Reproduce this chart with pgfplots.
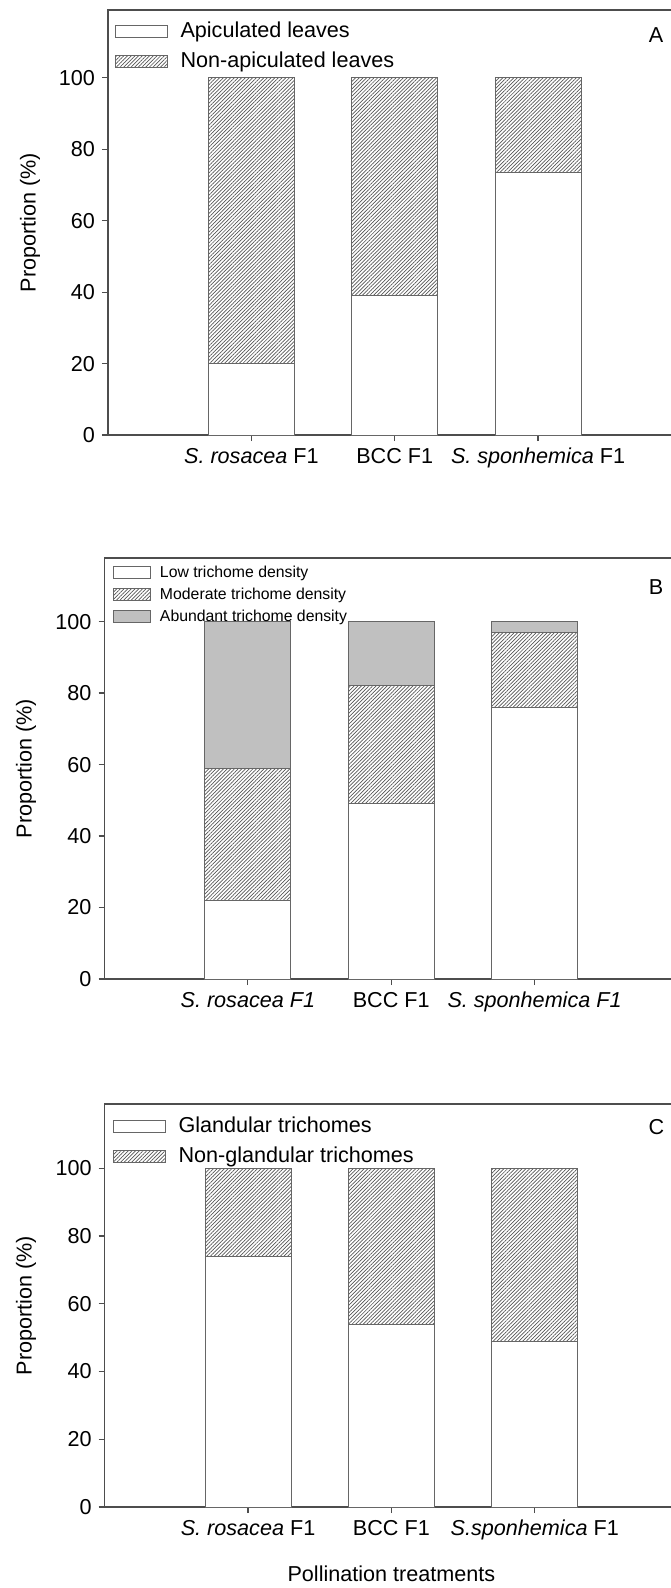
\documentclass[border=0pt]{standalone}
\usepackage{fontspec}
\setmainfont{Liberation Sans}
\usepackage{pgfplots}
\pgfplotsset{compat=1.18}
\usetikzlibrary{patterns.meta}
\definecolor{axgray}{HTML}{4D4D4D}
\definecolor{bargray}{HTML}{666666}
\definecolor{abund}{HTML}{C0C0C0}
\definecolor{hatchc}{HTML}{555555}
\newcommand{\mainfs}{\fontsize{10.8}{13}\selectfont}
\newcommand{\smallfs}{\fontsize{7.9}{9.5}\selectfont}
\pgfplotsset{
  panel/.style={
    scale only axis,
    width=286.7pt,
    xmin=0, xmax=4,
    ymin=0,
    ybar stacked, bar width=0.6,
    xtick={1,2,3},
    ytick={0,20,...,100},
    tick align=outside,
    tick pos=left,
    major tick length=3pt,
    axis line style={axgray, line width=0.75pt},
    major tick style={axgray, line width=0.6pt},
    /pgf/number format/assume math mode=true,
    tick label style={font=\mainfs, text=black},
    label style={font=\mainfs},
    ylabel={Proportion (\%)},
    legend cell align=left,
  },
  bigleg/.style={
    legend image code/.code={\draw[##1] (0pt,-3pt) rectangle (26pt,3pt);},
    legend style={draw=none, fill=none, inner sep=0pt, outer sep=0pt,
      anchor=north west, row sep=4.5pt,
      nodes={inner sep=0pt, text height=8pt, text depth=2.5pt, font=\mainfs},
      /tikz/every odd column/.append style={column sep=6.25pt}},
  },
  smallleg/.style={
    legend image code/.code={\draw[##1] (0pt,-3pt) rectangle (18.5pt,3pt);},
    legend style={draw=none, fill=none, inner sep=0pt, outer sep=0pt,
      anchor=north west, row sep=3.2pt,
      nodes={inner sep=0pt, text height=6pt, text depth=1.8pt, font=\smallfs},
      /tikz/every odd column/.append style={column sep=4.5pt}},
  },
  lowbar/.style={fill=white, draw=bargray, line width=0.5pt},
  hatchbar/.style={draw=bargray, line width=0.5pt,
    pattern={Lines[angle=45,distance=1.3pt,line width=0.35pt]}, pattern color=hatchc},
  greybar/.style={fill=abund, draw=bargray, line width=0.5pt},
}
\begin{document}
\begin{tikzpicture}
\useasboundingbox (0,0) rectangle (335pt,-794pt);
% Panel A
\begin{axis}[panel, bigleg,
  at={(54pt,-217.5pt)}, anchor=south west,
  height=212.5pt, ymax=119,
  xticklabels={\textit{S. rosacea} F1, BCC F1, \textit{S. sponhemica} F1},
  ylabel style={at={(axis description cs:-0.136,0.5)}, anchor=center, rotate=0},
  legend style={at={(axis description cs:0.0122,0.974)}},
]
\addplot[lowbar] coordinates {(1,20) (2,39) (3,73.5)};
\addplot[hatchbar] coordinates {(1,80) (2,61) (3,26.5)};
\legend{Apiculated leaves, Non-apiculated leaves}
\node[font=\mainfs] at (axis description cs:0.956,0.941) {A};
\end{axis}
% Panel B
\begin{axis}[panel, smallleg,
  at={(52.25pt,-489.5pt)}, anchor=south west,
  height=210.5pt, ymax=117.8,
  xticklabels={\textit{S. rosacea F1}, BCC F1, \raisebox{-2.5pt}{\textit{S. sponhemica F1}}},
  ylabel style={at={(axis description cs:-0.137,0.5)}, anchor=center, rotate=0},
  legend style={at={(axis description cs:0.0148,0.983)}},
]
\addplot[lowbar] coordinates {(1,22) (2,49) (3,76)};
\addplot[hatchbar] coordinates {(1,37) (2,33) (3,21)};
\addplot[greybar] coordinates {(1,41) (2,18) (3,3)};
\legend{Low trichome density, Moderate trichome density, Abundant trichome density}
\node[font=\mainfs] at (axis description cs:0.962,0.931) {B};
\end{axis}
% Panel C
\begin{axis}[panel, bigleg,
  at={(52.35pt,-753.5pt)}, anchor=south west,
  height=201.5pt, ymax=119,
  xticklabels={\textit{S. rosacea} F1, BCC F1, \textit{S.sponhemica} F1},
  ylabel style={at={(axis description cs:-0.137,0.5)}, anchor=center, rotate=0},
  xlabel={Pollination treatments},
  xlabel style={yshift=-6pt},
  legend style={at={(axis description cs:0.0145,0.970)}},
]
\addplot[lowbar] coordinates {(1,74) (2,54) (3,49)};
\addplot[hatchbar] coordinates {(1,26) (2,46) (3,51)};
\legend{Glandular trichomes, Non-glandular trichomes}
\node[font=\mainfs] at (axis description cs:0.962,0.943) {C};
\end{axis}
\end{tikzpicture}
\end{document}
